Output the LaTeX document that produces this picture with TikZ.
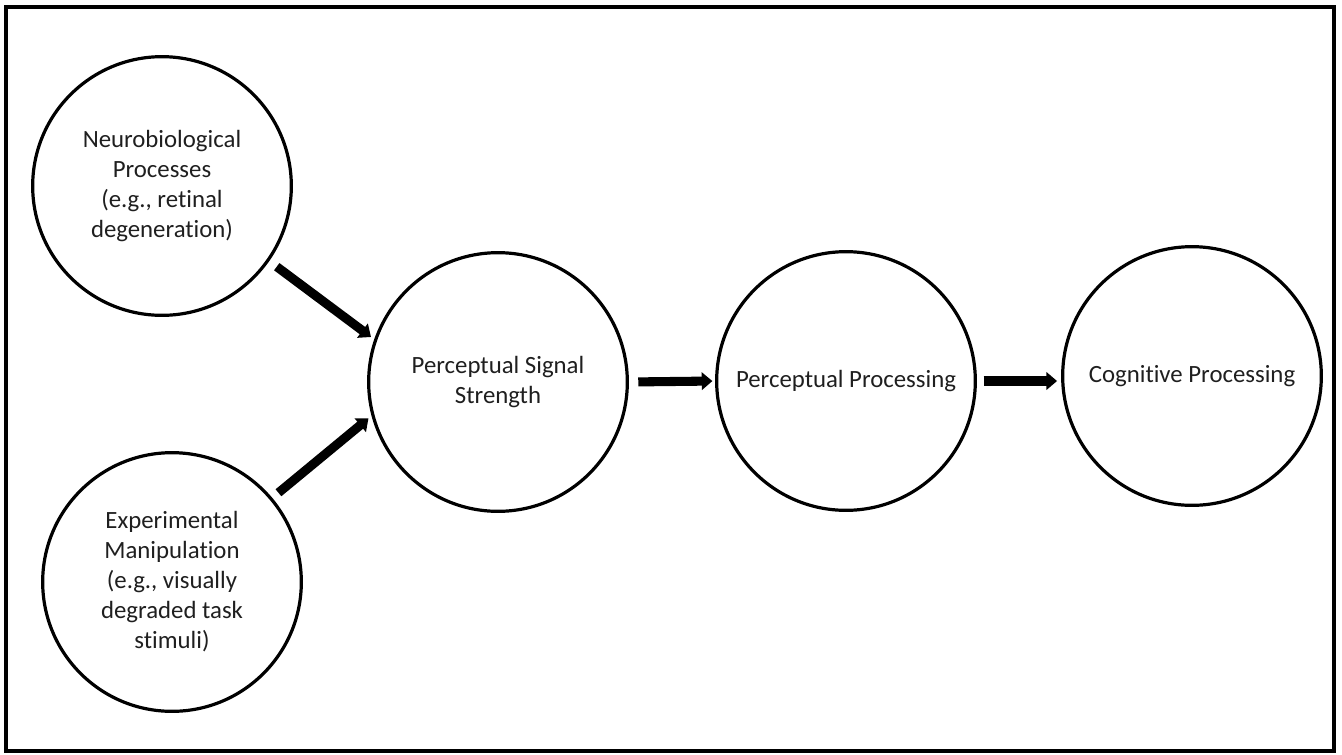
\documentclass[tikz,border=0pt]{standalone}
\usepackage{fontspec}
\setmainfont[Ligatures={NoCommon,NoContextual}]{Carlito}
\usetikzlibrary{arrows.meta}
\begin{document}
\begin{tikzpicture}[x=0.75pt,y=-0.75pt,
  bubble/.style={circle,draw=black,line width=2.4pt,minimum size=194pt,inner sep=0pt,
    align=center,font=\fontsize{18.6pt}{22.5pt}\selectfont,text=black!88},
  bigarrow/.style={line width=6.8pt,-{Triangle[length=8pt,width=13pt]}}]
\useasboundingbox (0,0) rectangle (1342,754);
\draw[line width=2.4pt] (6,7) rectangle (1334,751);
\node[bubble] (neuro) at (162,186) {Neurobiological\\Processes\\(e.g., retinal\\degeneration)};
\node[bubble] (exp) at (172,582) {Experimental\\Manipulation\\(e.g., visually\\degraded task\\stimuli)};
\node[bubble] (pss) at (498,382) {Perceptual Signal\\Strength};
\node[bubble] (pp) at (846,381) {Perceptual Processing};
\node[bubble] (cp) at (1192,376) {Cognitive Processing};
\draw[bigarrow,shorten <=7pt,shorten >=3pt] (neuro.-35.6) -- (pss.161.3);
\draw[bigarrow,shorten <=6pt,shorten >=3pt] (exp.40.3) -- (pss.-165);
\draw[bigarrow,shorten <=7pt,shorten >=2pt] (pss.east) -- (pp.west);
\draw[bigarrow,shorten <=5pt,shorten >=3pt] (pp.east) -- (pp.east -| cp.west);
\end{tikzpicture}
\end{document}
